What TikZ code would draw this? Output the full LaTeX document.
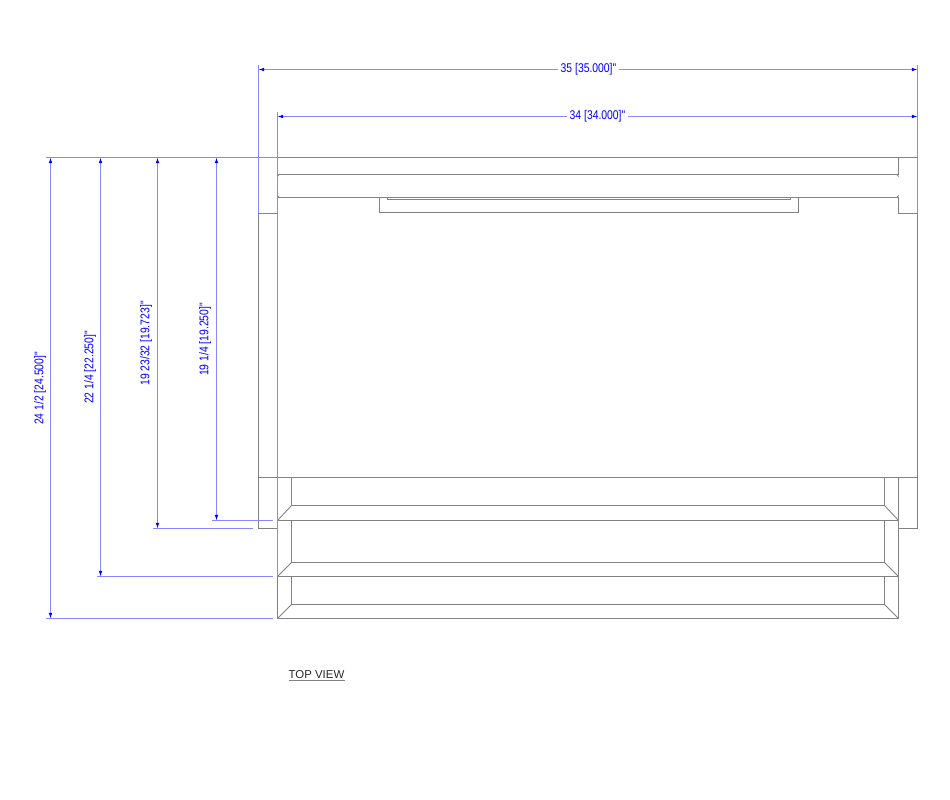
\documentclass[tikz,border=0pt]{standalone}
\usepackage{fontspec}
\setmainfont{Liberation Sans}
\newfontfamily\dimfont[FakeStretch=0.82]{Liberation Sans}
\usepackage{tikz}
\usetikzlibrary{arrows.meta}

\definecolor{partgray}{RGB}{130,130,130}
\definecolor{dimblue}{RGB}{135,135,255}
\tikzset{
    part/.style={draw=partgray, line width=0.5pt},
    dimline/.style={draw=dimblue, line width=0.5pt},
    dimarrow/.style={dimline, {Latex[length=3.2pt,width=2.1pt,blue]}-{Latex[length=3.2pt,width=2.1pt,blue]}},
    dimarrowa/.style={dimline, {Latex[length=3.2pt,width=2.1pt,blue]}-},
    dimarrowb/.style={dimline, -{Latex[length=3.2pt,width=2.1pt,blue]}},
    dimtext/.style={text=blue, font=\dimfont\fontsize{7.2}{8}\selectfont, inner sep=0pt},
}

\begin{document}
\begin{tikzpicture}[x=0.02cm, y=-0.02cm]
        \useasboundingbox (0,-0.5) rectangle (950,799.5);

        % body corners
        \coordinate (LL) at (258.5,213);
        \coordinate (LB) at (258.5,528);
        \coordinate (RL) at (917.5,213);
        \coordinate (RB) at (917.5,528);
        \coordinate (TL) at (277.5,157);
        \coordinate (TR) at (917.5,157);

        % outline
        \draw[part] (TL) -- (TR);
        \draw[part] (898.5,157) -- (898.5,174);
        \draw[part] (277.5,174) -- (898.5,174);
        \draw[part] (277.5,197) -- (898.5,197);
        \draw[part] (898.5,197) -- (898.5,213) -- (RL) -- (RB) -- (898.5,528);
        \draw[part] (277.5,213) -- (LL) -- (LB) -- (277.5,528);
        \draw[part] (LL |- 0,477) -- (RL |- 0,477);

        % small ticks on the rail
        \draw[part] (277.5,176) -- (279,174);
        \draw[part] (277.5,195) -- (279,197);
        \draw[part] (897,174) -- (898.5,176);
        \draw[part] (897,197) -- (898.5,195);

        % handle
        \draw[part] (379.5,197) -- (379.5,212) -- (798.5,212) -- (798.5,197);
        \draw[part] (387.5,197) -- (387.5,199) -- (790.5,199) -- (790.5,197);

        % shelves
        \draw[part] (898.5,477) -- (898.5,618);
        \draw[part] (277.5,576) -- (277.5,618) -- (898.5,618);
        \draw[part] (277.5,520) -- (898.5,520);
        \draw[part] (277.5,576) -- (898.5,576);
        \draw[part] (291.5,477) -- (291.5,505) -- (884.5,505) -- (884.5,477);
        \draw[part] (291.5,520) -- (291.5,562) -- (884.5,562) -- (884.5,520);
        \draw[part] (291.5,576) -- (291.5,604) -- (884.5,604) -- (884.5,576);
        \draw[part] (277.5,520) -- (291.5,505);
        \draw[part] (277.5,576) -- (291.5,562);
        \draw[part] (277.5,618) -- (291.5,604);
        \draw[part] (898.5,520) -- (884.5,505);
        \draw[part] (898.5,576) -- (884.5,562);
        \draw[part] (898.5,618) -- (884.5,604);

        % extension lines
        \draw[dimline] (258.5,65) -- (LL);
        \draw[dimline] (917.5,65) -- (RL);
        \draw[dimline] (277.5,112) -- (277.5,576);
        \draw[dimline] (46,157) -- (TL);
        \draw[dimline] (46,618) -- (273,618);
        \draw[dimline] (97,576) -- (273,576);
        \draw[dimline] (153,528) -- (253,528);
        \draw[dimline] (212,520) -- (273,520);

        % horizontal dimensions
        \node[dimtext] (W) at (588.5,69) {35 [35.000]"};
        \node[dimtext] (D) at (597.5,116) {34 [34.000]"};
        \draw[dimarrowa] (258.5,69) -- ([xshift=-1.5]W.west);
        \draw[dimarrowb] ([xshift=1.5]W.east) -- (917.5,69);
        \draw[dimarrowa] (277.5,116) -- ([xshift=-1.5]D.west);
        \draw[dimarrowb] ([xshift=1.5]D.east) -- (917.5,116);

        % vertical dimensions
        \draw[dimarrow] (50.5,157) -- (50.5,618);
        \draw[dimarrow] (100.5,157) -- (100.5,576);
        \draw[dimarrow] (157.5,157) -- (157.5,528);
        \draw[dimarrow] (216.5,157) -- (216.5,520);

        \node[dimtext, rotate=90] at (40,388) {24 1/2 [24.500]"};
        \node[dimtext, rotate=90] at (90,367) {22 1/4 [22.250]"};
        \node[dimtext, rotate=90] at (146,343) {19 23/32 [19.723]"};
        \node[dimtext, rotate=90] at (205,339) {19 1/4 [19.250]"};

        % label
        \node[inner sep=0pt, text=black!85, font=\fontsize{6.5}{7}\selectfont] (V) at (316.5,674.5) {TOP VIEW};
        \draw[part] (288.5,680) -- (344.5,680);

    \end{tikzpicture}
\end{document}
